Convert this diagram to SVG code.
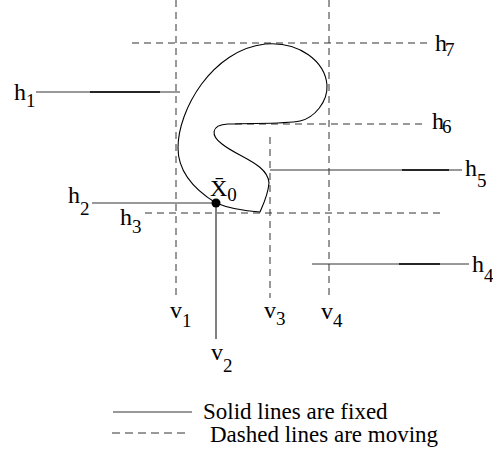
<svg xmlns="http://www.w3.org/2000/svg" width="493" height="461" viewBox="0 0 493 461">
<style>
.solid{stroke:#333;stroke-width:1;fill:none}
.thick{stroke:#000;stroke-width:1.6;fill:none}
.dash{stroke:#333;stroke-width:1;fill:none;stroke-dasharray:7,5}
.lbl{font-size:24px;fill:#000}
.sub{font-size:19px}
.leg{font-size:23px;fill:#000}
</style>
<rect width="493" height="461" fill="#fff"/>
<g id="connectors">
<line id="v1" class="dash" x1="176" y1="0" x2="176" y2="300" stroke="#555"/>
<line id="v2" class="solid" x1="216" y1="203" x2="216" y2="339" style="stroke:#000"/>
<line id="v3" class="dash" x1="270" y1="137" x2="270" y2="298"/>
<line id="v4" class="dash" x1="329" y1="0" x2="329" y2="300"/>
<line id="h7" class="dash" x1="132" y1="43" x2="428" y2="43"/>
<line id="h6" class="dash" x1="235" y1="124" x2="427" y2="124"/>
<line id="h5" class="solid" x1="270" y1="170" x2="462" y2="170"/>
<line class="thick" x1="402" y1="170" x2="449" y2="170"/>
<line id="h1" class="solid" x1="36" y1="92" x2="180" y2="92"/>
<line class="thick" x1="90" y1="92" x2="160" y2="92"/>
<line id="h2" class="solid" x1="92" y1="203" x2="216" y2="203"/>
<line id="h3" class="dash" x1="145" y1="213" x2="445" y2="213"/>
<line id="h4" class="solid" x1="312" y1="264" x2="469" y2="264"/>
<line class="thick" x1="399" y1="264" x2="440" y2="264"/>
</g>
<g id="region">
<path d="M216,203 C195,190 178,172 178,148 C178,110 212,50 265,44 C300,41 325,62 327,85 C328,102 314,118 300,121 C285,124 258,123 228,124 C210,125 211,136 222,144 C238,157 268,164 269,183 C268,195 263,205 260,212 C245,211 228,208 216,203 Z" fill="none" stroke="#000" stroke-width="1.1"/>
</g>
<g id="x0" font-family="Liberation Serif, Times New Roman, serif">
<circle cx="216" cy="203" r="4.5" fill="#000"/>
<text class="lbl" x="210" y="196">X̄<tspan class="sub" dy="5">0</tspan></text>
</g>
<g id="labels" font-family="Liberation Serif, Times New Roman, serif">
<text id="lh1" class="lbl" x="14" y="100">h<tspan class="sub" dy="7">1</tspan></text>
<text id="lh2" class="lbl" x="68" y="203">h<tspan class="sub" dy="12">2</tspan></text>
<text id="lh3" class="lbl" x="120" y="225">h<tspan class="sub" dy="8">3</tspan></text>
<text id="lh4" class="lbl" x="472" y="272">h<tspan class="sub" dy="10">4</tspan></text>
<text id="lh5" class="lbl" x="465" y="176">h<tspan class="sub" dy="11">5</tspan></text>
<text id="lh6" class="lbl" x="432" y="129" letter-spacing="-2">h<tspan class="sub" dy="4">6</tspan></text>
<text id="lh7" class="lbl" x="435" y="51" letter-spacing="-2">h<tspan class="sub" dy="5">7</tspan></text>
<text id="lv1" class="lbl" x="170" y="318">v<tspan class="sub" dy="9">1</tspan></text>
<text id="lv2" class="lbl" x="211" y="360">v<tspan class="sub" dy="12">2</tspan></text>
<text id="lv3" class="lbl" x="264" y="318">v<tspan class="sub" dy="7">3</tspan></text>
<text id="lv4" class="lbl" x="321" y="319">v<tspan class="sub" dy="8">4</tspan></text>
</g>
<g id="legend" font-family="Liberation Serif, Times New Roman, serif">
<line class="solid" x1="113" y1="412" x2="192" y2="412"/>
<line class="dash" x1="112" y1="433" x2="190" y2="433" style="stroke-dasharray:8,5"/>
<text class="leg" x="203" y="419">Solid lines are fixed</text>
<text class="leg" x="210" y="442">Dashed lines are moving</text>
</g>
</svg>
